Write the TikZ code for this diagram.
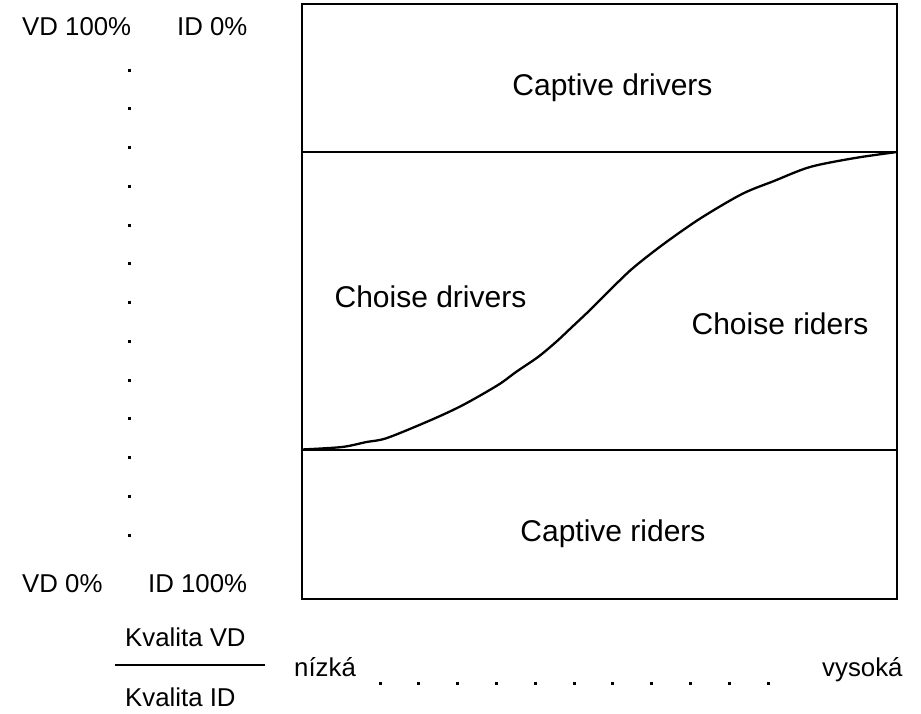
\documentclass[tikz,border=0pt]{standalone}
\usepackage{fontspec}
\setmainfont{Liberation Sans}
\begin{document}
\begin{tikzpicture}[x=1pt,y=-1pt,
  small/.style={font=\fontsize{25.8}{30}\selectfont, inner sep=0pt, anchor=base},
  big/.style={font=\fontsize{30}{35}\selectfont, inner sep=0pt, anchor=base},
  frame/.style={line width=2.6pt},
  dotmark/.style={fill=black}]
\useasboundingbox (0,0) rectangle (921,713);
% box
\draw[frame] (302,4) rectangle (897,599);
\draw[frame] (302,152) -- (897,152);
\draw[frame] (302,450) -- (897,450);
% curve
\draw[line width=2.3pt, line join=round] plot[smooth, tension=0.5] coordinates {
 (302,449.5) (342,447) (366.5,442) (387,438) (431,420) (463,405) (498,385)
 (516,372) (538,357) (556,342) (572,327) (590,310) (609,291) (633,268)
 (665,243) (701,218) (742,194) (774,181) (810,167) (855,158) (897,152)};
% region labels
\node[big] (cd) at (612.5,95) {Captive drivers};
\node[big] (chd) at (430.5,307) {Choise drivers};
\node[big] (chr) at (780,334) {Choise riders};
\node[big] (cr) at (613,541) {Captive riders};
% left labels
\node[small, anchor=base west] (vd100) at (22,35) {VD 100\%};
\node[small, anchor=base west] (id0) at (177,35) {ID 0\%};
\node[small, anchor=base west] (vd0) at (22,592) {VD 0\%};
\node[small, anchor=base west] (id100) at (148,592) {ID 100\%};
% vertical dots
\foreach \i in {0,...,12} {
  \fill[dotmark] (127.5,{68.5+38.75*\i}) rectangle ++(3,3);
}
% bottom
\node[small, anchor=base west] (kvd) at (125,646) {Kvalita VD};
\node[small, anchor=base west] (kid) at (125,706) {Kvalita ID};
\draw[line width=2.5pt] (115,665) -- (265,665);
\node[small, anchor=base west] (niz) at (294,676) {nízká};
\node[small, anchor=base west] (vys) at (822,676) {vysoká};
\foreach \i in {0,...,10} {
  \fill[dotmark] ({378.5+38.8*\i},681.5) rectangle ++(3,3);
}
\end{tikzpicture}
\end{document}
